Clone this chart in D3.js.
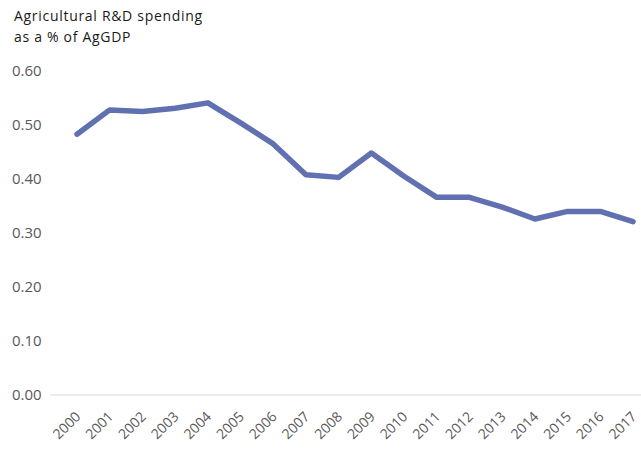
<!DOCTYPE html>
<html>
<head>
<meta charset="utf-8">
<script src="https://cdn.jsdelivr.net/npm/d3@7"></script>
<style>
  body { margin: 0; background: #fff; }
  svg { display: block; font-family: "Open Sans", sans-serif; }
</style>
</head>
<body>
<svg id="chart" width="641" height="449"></svg>
<script>
const years = ['2000', '2001', '2002', '2003', '2004', '2005', '2006', '2007', '2008',
  '2009', '2010', '2011', '2012', '2013', '2014', '2015', '2016', '2017'];
const spending = [0.483, 0.528, 0.525, 0.531, 0.541, 0.504, 0.465, 0.408, 0.403,
  0.448, 0.405, 0.366, 0.366, 0.348, 0.326, 0.340, 0.340, 0.321];
const yTicks = [0, 0.1, 0.2, 0.3, 0.4, 0.5, 0.6];
const titleLines = ['Agricultural R&D spending', 'as a % of AgGDP'];

const svg = d3.select('#chart');

const x = d3.scalePoint()
  .domain(years)
  .range([77, 633]);

const y = d3.scaleLinear()
  .domain([0, 0.6])
  .range([395, 71]);

// title
svg.append('g')
  .selectAll('text')
  .data(titleLines)
  .join('text')
  .attr('x', 14)
  .attr('y', (d, i) => 21 + i * 21)
  .attr('font-size', 14)
  .attr('letter-spacing', 0.7)
  .attr('fill', '#1a1a1a')
  .text(d => d);

// baseline
svg.append('line')
  .attr('x1', 50)
  .attr('x2', 641)
  .attr('y1', y(0))
  .attr('y2', y(0))
  .attr('stroke', '#d9d9d9')
  .attr('stroke-width', 1.2);

// y labels
svg.append('g')
  .selectAll('text')
  .data(yTicks)
  .join('text')
  .attr('x', 12)
  .attr('y', d => y(d))
  .attr('dy', '0.35em')
  .attr('font-size', 15)
  .attr('fill', '#595959')
  .text(d => d.toFixed(2));

// x labels, rotated
svg.append('g')
  .selectAll('text')
  .data(years)
  .join('text')
  .attr('transform', d => `translate(${x(d) + 1},${y(0) + 19}) rotate(-45)`)
  .attr('text-anchor', 'end')
  .attr('dy', '0.35em')
  .attr('font-size', 14)
  .attr('fill', '#595959')
  .text(d => d);

// line
const line = d3.line()
  .x((d, i) => x(years[i]))
  .y(d => y(d));

svg.append('path')
  .datum(spending)
  .attr('d', line)
  .attr('fill', 'none')
  .attr('stroke', '#6170b0')
  .attr('stroke-width', 5.5)
  .attr('stroke-linejoin', 'round')
  .attr('stroke-linecap', 'round');
</script>
</body>
</html>
